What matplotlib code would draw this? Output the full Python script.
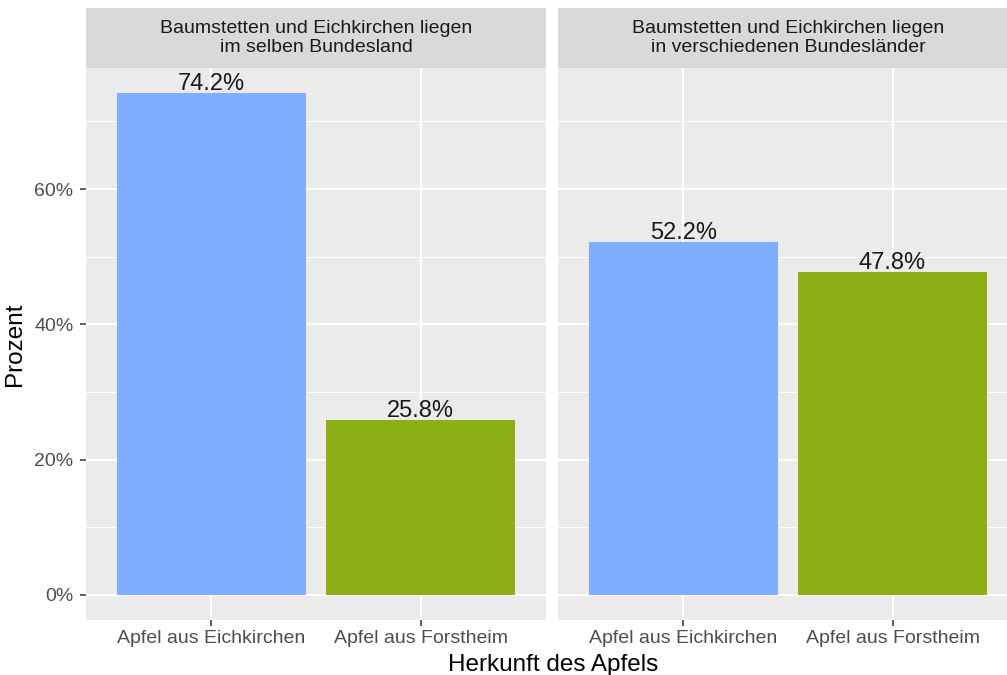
import matplotlib
matplotlib.use("Agg")
import matplotlib.pyplot as plt
from matplotlib.ticker import FuncFormatter, MultipleLocator

plt.rcParams['font.family'] = ['Liberation Sans', 'DejaVu Sans']

# Daten
panels = ["Baumstetten und Eichkirchen liegen\nim selben Bundesland",
          "Baumstetten und Eichkirchen liegen\nin verschiedenen Bundesländer"]
kategorien = ["Apfel aus Eichkirchen", "Apfel aus Forstheim"]
prozent_selben = [74.2, 25.8]
prozent_verschieden = [52.2, 47.8]
werte = [prozent_selben, prozent_verschieden]
farben = ["#7FADFF", "#8CAF16"]

W, H = 1007, 675
fig = plt.figure(figsize=(W / 100, H / 100), dpi=100)

ymin, ymax = -3.71, 77.91
links = [86, 558]
breite = 460
oben, unten = 68, 620

for i, (titel, vals) in enumerate(zip(panels, werte)):
    ax = fig.add_axes([links[i] / W, (H - unten) / H, breite / W, (unten - oben) / H])
    ax.set_facecolor("#EBEBEB")
    for s in ax.spines.values():
        s.set_visible(False)
    ax.set_xlim(0.4, 2.6)
    ax.set_ylim(ymin, ymax)
    ax.yaxis.set_major_locator(MultipleLocator(20))
    ax.yaxis.set_minor_locator(MultipleLocator(10))
    ax.grid(which="major", color="white", lw=1.4)
    ax.grid(which="minor", axis="y", color="white", lw=0.7)
    ax.set_axisbelow(True)
    pos = [1, 2]
    ax.bar(pos, vals, width=0.9, color=farben, zorder=2)
    for p, v in zip(pos, vals):
        ax.text(p, v + 0.45, f"{v:.1f}%", ha="center", va="baseline",
                fontsize=17, color="#1A1A1A", zorder=3)
    ax.set_xticks(pos)
    ax.set_xticklabels(kategorien, fontsize=14, color="#4D4D4D")
    ax.tick_params(axis="both", which="major", length=4, width=1.1, color="#333333", pad=3)
    ax.tick_params(axis="y", which="major", pad=5)
    ax.tick_params(axis="y", which="minor", length=0)
    if i == 0:
        ax.yaxis.set_major_formatter(FuncFormatter(lambda v, _: f"{v:.0f}%"))
        ax.tick_params(axis="y", labelsize=14, labelcolor="#4D4D4D")
    else:
        ax.tick_params(axis="y", which="both", length=0, labelleft=False)

    # Streifen oben
    sax = fig.add_axes([links[i] / W, (H - oben) / H, breite / W, 60 / H])
    sax.set_facecolor("#D9D9D9")
    sax.set_xticks([])
    sax.set_yticks([])
    for s in sax.spines.values():
        s.set_visible(False)
    sax.text(0.5, 0.5, titel, transform=sax.transAxes, ha="center", va="center",
             fontsize=14, color="#1A1A1A", linespacing=1.17)

fig.text(15 / W, 1 - 344 / H, "Prozent", rotation=90, ha="center", va="center",
         fontsize=17.5, color="black")
fig.text(553 / W, 1 - 671 / H, "Herkunft des Apfels", ha="center", va="baseline",
         fontsize=17.5, color="black")

fig.savefig("out.png", dpi=100)
